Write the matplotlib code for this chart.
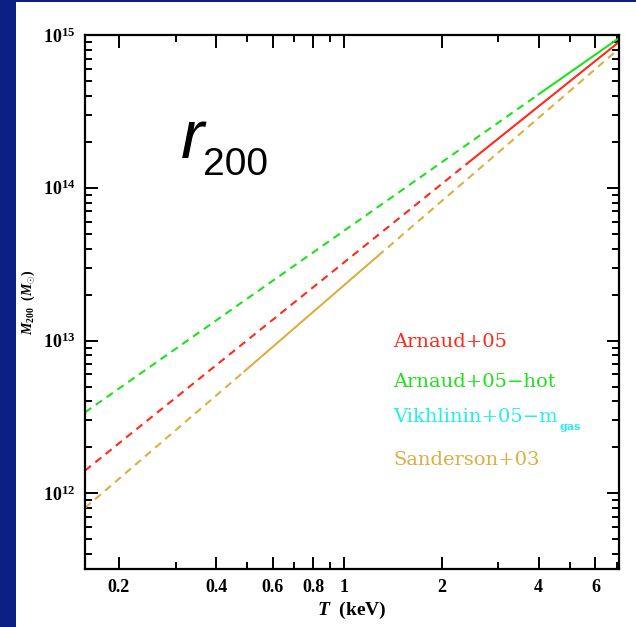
import matplotlib
matplotlib.use("Agg")
import matplotlib.pyplot as plt
from matplotlib.patches import Rectangle
from matplotlib.ticker import FixedLocator, FixedFormatter, NullFormatter

plt.rcParams['lines.scale_dashes'] = False
plt.rcParams['mathtext.fontset'] = 'custom'
plt.rcParams['mathtext.rm'] = 'Liberation Serif:bold'
plt.rcParams['mathtext.it'] = 'Liberation Serif:italic:bold'
plt.rcParams['mathtext.bf'] = 'Liberation Serif:bold'

# Mass-temperature relations: breakpoints (keV) and M200 (Msun) at each breakpoint
arnaud_T = [0.157, 2.4, 7.1]
arnaud_M = [1.41e12, 1.44e14, 9.0e14]
arnaud_solid_from = 1          # index where the fitted (solid) range begins

hot_T = [0.157, 4.0, 7.1]
hot_M = [3.39e12, 4.09e14, 9.55e14]
hot_solid_from = 1

sand_T = [0.157, 0.49, 1.27, 7.1]
sand_M = [8.04e11, 6.3e12, 3.58e13, 8.13e14]
sand_solid = (1, 2)            # solid between these breakpoints

legend_labels = ["Arnaud+05", "Arnaud+05\u2212hot", "Vikhlinin+05\u2212m", "Sanderson+03"]
legend_colors = ["#ff2a1a", "#1fe01f", "#22eeee", "#ddae44"]

x_major = [0.2, 0.4, 0.6, 0.8, 1, 2, 4, 6]
x_major_labels = ["0.2", "0.4", "0.6", "0.8", "1", "2", "4", "6"]
x_minor = [0.3, 0.5, 0.7, 0.9, 3, 5, 7]
y_major = [1e12, 1e13, 1e14, 1e15]
y_major_labels = [r"$\mathbf{10^{12}}$", r"$\mathbf{10^{13}}$", r"$\mathbf{10^{14}}$", r"$\mathbf{10^{15}}$"]

W, H = 636, 627
fig = plt.figure(figsize=(W / 100, H / 100), dpi=100)
fig.patch.set_facecolor("#0c1f84")
fig.add_artist(Rectangle((16 / W, 0), 1 - 16 / W, 1 - 2 / H, transform=fig.transFigure,
                         facecolor="white", edgecolor="none", zorder=0))

ax = fig.add_axes([85 / W, (H - 569) / H, (619 - 85) / W, (569 - 35) / H])
ax.set_xscale("log")
ax.set_yscale("log")
ax.set_xlim(0.157, 7.1)
ax.set_ylim(3.2e11, 1e15)

dash = (0, (5.5, 4))
lw = 1.5

def draw(T, M, color, solid_range):
    a, b = solid_range
    if a > 0:
        ax.plot(T[:a + 1], M[:a + 1], color=color, lw=lw, linestyle=dash)
    ax.plot(T[a:b + 1], M[a:b + 1], color=color, lw=lw, linestyle="-")
    if b < len(T) - 1:
        ax.plot(T[b:], M[b:], color=color, lw=lw, linestyle=dash)

draw(sand_T, sand_M, legend_colors[3], sand_solid)
draw(arnaud_T, arnaud_M, legend_colors[0], (arnaud_solid_from, len(arnaud_T) - 1))
draw(hot_T, hot_M, legend_colors[1], (hot_solid_from, len(hot_T) - 1))

for s in ax.spines.values():
    s.set_linewidth(1.6)

ax.xaxis.set_major_locator(FixedLocator(x_major))
ax.xaxis.set_major_formatter(FixedFormatter(x_major_labels))
ax.xaxis.set_minor_locator(FixedLocator(x_minor))
ax.xaxis.set_minor_formatter(NullFormatter())
ax.yaxis.set_major_locator(FixedLocator(y_major))
ax.yaxis.set_major_formatter(FixedFormatter(y_major_labels))

ax.tick_params(which="both", direction="in", top=True, right=True, width=1.4)
ax.tick_params(which="major", length=9)
ax.tick_params(which="minor", length=5)
ax.tick_params(axis="x", pad=7)
ax.tick_params(axis="y", labelsize=13, pad=7)
for lab in ax.get_xticklabels():
    lab.set_fontfamily("Liberation Serif")
    lab.set_fontweight("bold")
    lab.set_fontsize(13)

ax.set_xlabel(r"$\mathit{T}$  (keV)", fontsize=14, fontfamily="Liberation Serif",
              fontweight="bold", labelpad=3)
ax.set_ylabel(r"$\mathit{M}_{200}$  ($\mathit{M}_{\odot}$)", fontsize=10,
              fontfamily="Liberation Serif", fontweight="bold", labelpad=4)

# r200 annotation
fig.text(181 / W, 1 - 158 / H, "r", fontsize=50, style="italic",
         fontfamily="Liberation Sans", ha="left", va="baseline")
fig.text(203 / W, 1 - 175 / H, "200", fontsize=28,
         fontfamily="Liberation Sans", ha="left", va="baseline")

# legend text
leg_y = [342, 382, 417, 460]
for lab, col, yy in zip(legend_labels, legend_colors, leg_y):
    fig.text(393 / W, 1 - yy / H, lab, color=col, fontsize=14,
             fontfamily="DejaVu Serif", ha="left", va="center")
fig.text(560 / W, 1 - 426 / H, "gas", color=legend_colors[2], fontsize=8,
         fontfamily="DejaVu Serif", fontweight="bold", ha="left", va="center")

fig.savefig("out.png", dpi=100, facecolor=fig.get_facecolor())
